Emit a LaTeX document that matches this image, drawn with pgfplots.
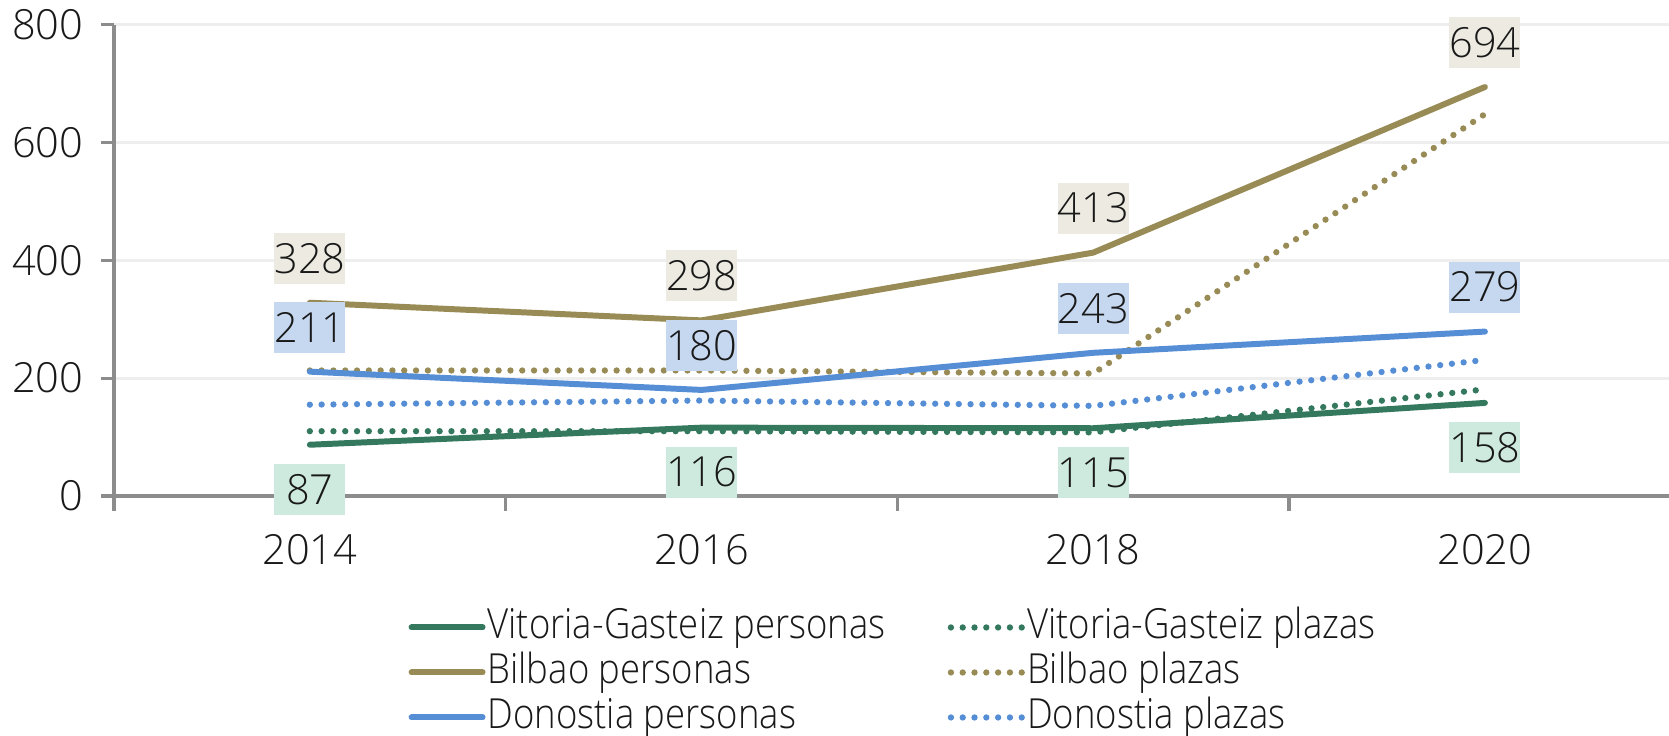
\documentclass[border=0pt]{standalone}
\usepackage{pgfplots}
\pgfplotsset{compat=1.18}
\usepackage{fontspec}
\setmainfont{Open Sans}[UprightFont={* Light}]
\newfontfamily\legfont{Open Sans}[UprightFont={* Light}, FakeStretch=0.88]
\definecolor{vgreen}{RGB}{52,121,93}
\definecolor{bolive}{RGB}{152,139,85}
\definecolor{dblue}{RGB}{86,142,214}
\definecolor{vgbox}{RGB}{206,234,223}
\definecolor{bobox}{RGB}{237,235,225}
\definecolor{dbbox}{RGB}{198,216,240}
\definecolor{txt}{RGB}{25,25,25}
\definecolor{gridc}{RGB}{238,238,238}
\definecolor{axisc}{RGB}{140,140,140}

\tikzset{
  lab/.style={fill=#1, inner sep=0pt, minimum width=0.71cm,
    minimum height=0.51cm, text=txt},
}
\pgfplotsset{
  persona/.style={line width=1.7pt, line cap=round, line join=round, mark=none},
  plaza/.style={line width=1.8pt, line cap=round, mark=none,
    dash pattern=on 0pt off 0.118cm},
}

\begin{document}
\begin{tikzpicture}[font=\fontsize{11.8}{14}\selectfont, text=txt]
\useasboundingbox (-1.14,-2.39) rectangle (15.55,4.96);
\begin{axis}[
  scale only axis,
  width=15.55cm, height=4.715cm,
  xmin=-0.5, xmax=3.47,
  ymin=0, ymax=800,
  axis lines*=left,
  axis line style={draw=axisc, line width=0.9pt},
  clip=false,
  xtick={0,1,2,3},
  xticklabels={2014,2016,2018,2020},
  minor xtick={-0.5,0.5,1.5,2.5},
  ytick={0,200,400,600,800},
  tick align=outside,
  major tick length=0.13cm,
  minor tick length=0.15cm,
  major x tick style={draw=none},
  every tick/.style={draw=axisc, line width=0.9pt},
  ymajorgrids,
  grid style={draw=gridc, line width=0.8pt},
  /pgf/number format/assume math mode=true,
  xticklabel style={inner sep=0pt, anchor=center, yshift=-0.41cm},
  yticklabel style={inner sep=0pt, anchor=east, xshift=-0.17cm},
  legend columns=2,
  legend cell align=left,
  legend style={
    at={(0.189,-0.237)}, anchor=north west,
    draw=none, fill=none, inner sep=0pt,
    row sep=0.07cm,
    font=\legfont\fontsize{11.8}{14}\selectfont,
    nodes={inner sep=0pt, text height=0.30cm, text depth=0.08cm},
    /tikz/every even column/.append style={column sep=0.62cm},
    /tikz/every odd column/.append style={column sep=0.02cm},
  },
  legend image code/.code={\draw[#1] (0cm,0cm) -- (0.71cm,0cm);},
]
\addplot[persona, vgreen, nodes near coords,
  every node near coord/.style={lab=vgbox, anchor=north, yshift=-0.16cm}]
  coordinates {(0,87)(1,116)(2,115)(3,158)};
\addplot[plaza, vgreen] coordinates {(0,110)(1,110)(2,108)(3,181)};
\addplot[persona, bolive, nodes near coords,
  every node near coord/.style={lab=bobox, anchor=south, yshift=0.16cm}]
  coordinates {(0,328)(1,298)(2,413)(3,694)};
\addplot[plaza, bolive] coordinates {(0,213)(1,213)(2,208)(3,648)};
\addplot[persona, dblue, nodes near coords,
  every node near coord/.style={lab=dbbox, anchor=south, yshift=0.16cm}]
  coordinates {(0,211)(1,180)(2,243)(3,279)};
\addplot[plaza, dblue] coordinates {(0,155)(1,162)(2,153)(3,231)};
\legend{Vitoria-Gasteiz personas, Vitoria-Gasteiz plazas,
  Bilbao personas, Bilbao plazas,
  Donostia personas, Donostia plazas}
\end{axis}
\end{tikzpicture}
\end{document}
